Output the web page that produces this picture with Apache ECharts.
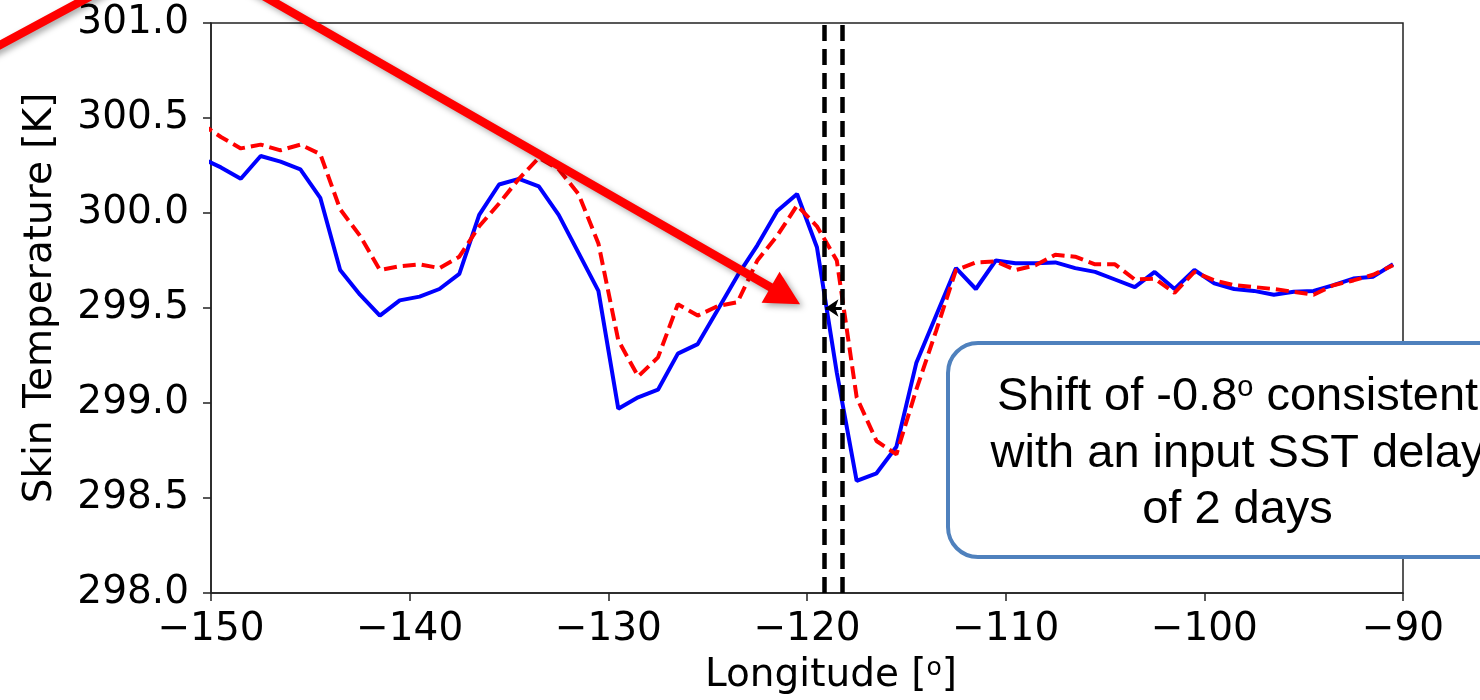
<!DOCTYPE html>
<html>
<head>
<meta charset="utf-8">
<script src="https://cdn.jsdelivr.net/npm/echarts@6/dist/echarts.min.js"></script>
<style>
  html, body { margin: 0; padding: 0; background: #fff; }
  #chart { width: 1480px; height: 700px; }
</style>
</head>
<body>
<div id="chart"></div>
<script>
// Sample longitudes along the transect (degrees)
const longitude = [
  -150.5, -149.5, -148.5, -147.5, -146.5, -145.5, -144.5, -143.5, -142.5, -141.5,
  -140.5, -139.5, -138.5, -137.5, -136.5, -135.5, -134.5, -133.5, -132.5, -131.5,
  -130.5, -129.5, -128.5, -127.5, -126.5, -125.5, -124.5, -123.5, -122.5, -121.5,
  -120.5, -119.5, -118.5, -117.5, -116.5, -115.5, -114.5, -113.5, -112.5, -111.5,
  -110.5, -109.5, -108.5, -107.5, -106.5, -105.5, -104.5, -103.5, -102.5, -101.5,
  -100.5, -99.5, -98.5, -97.5, -96.5, -95.5, -94.5, -93.5, -92.5, -91.5, -90.5
];

// Skin temperature, solid blue curve [K]
const skinSolid = [
  300.29, 300.24, 300.18, 300.30, 300.27, 300.23, 300.08, 299.70, 299.57, 299.46,
  299.54, 299.56, 299.60, 299.68, 299.99, 300.15, 300.18, 300.14, 299.99, 299.79,
  299.59, 298.97, 299.03, 299.07, 299.26, 299.31, 299.49, 299.67, 299.83, 300.01,
  300.10, 299.82, 299.16, 298.59, 298.63, 298.77, 299.21, 299.46, 299.71, 299.60,
  299.75, 299.735, 299.735, 299.74, 299.71, 299.69, 299.65, 299.61, 299.69, 299.60,
  299.70, 299.63, 299.60, 299.59, 299.57, 299.585, 299.59, 299.62, 299.655, 299.665, 299.73
];

// Skin temperature, dashed red curve [K]
const skinDashed = [
  300.47, 300.40, 300.34, 300.36, 300.33, 300.36, 300.31, 300.02, 299.88, 299.70,
  299.72, 299.73, 299.71, 299.77, 299.93, 300.05, 300.18, 300.29, 300.23, 300.10,
  299.84, 299.33, 299.14, 299.24, 299.52, 299.46, 299.51, 299.53, 299.75, 299.88,
  300.04, 299.93, 299.75, 299.03, 298.80, 298.73, 299.07, 299.38, 299.70, 299.74,
  299.745, 299.70, 299.725, 299.78, 299.77, 299.73, 299.73, 299.65, 299.655, 299.58,
  299.69, 299.645, 299.62, 299.61, 299.60, 299.585, 299.57, 299.62, 299.645, 299.675, 299.725
];

// Axis ticks
const xTicks = [-150, -140, -130, -120, -110, -100, -90];
const yTicks = [298.0, 298.5, 299.0, 299.5, 300.0, 300.5, 301.0];

// Longitudes of the two front positions (vertical dashed lines)
const frontLon = [-119.15, -118.25];
// Temperature level of the small shift arrow between them
const shiftLevel = 299.5;
// Point the large red pointer arrow ends at
const pointerTarget = [-120.35, 299.52];

// Callout text
const calloutText = ['Shift of -0.8{s|o} consistent', 'with an input SST delay', 'of 2 days'];

const minus = v => (v < 0 ? '\u2212' + Math.abs(v) : String(v));
const pairs = vals => longitude.map((x, i) => [x, vals[i]]);

const chart = echarts.init(document.getElementById('chart'), null, { renderer: 'canvas' });

const tickFont = { fontFamily: 'DejaVu Sans', fontSize: 39, color: '#000' };

chart.setOption({
  animation: false,
  backgroundColor: '#fff',
  grid: {
    left: 211, right: 77, top: 23, bottom: 107,
    show: true, borderColor: '#222', borderWidth: 1.5, backgroundColor: 'transparent'
  },
  xAxis: {
    type: 'value',
    min: xTicks[0], max: xTicks[xTicks.length - 1], interval: xTicks[1] - xTicks[0],
    axisLine: { show: true, lineStyle: { color: '#222', width: 1.5 } },
    axisTick: { show: true, inside: false, length: 8, lineStyle: { color: '#222', width: 1.5 } },
    axisLabel: Object.assign({ margin: 17, formatter: minus }, tickFont),
    splitLine: { show: false }
  },
  yAxis: {
    type: 'value',
    min: yTicks[0], max: yTicks[yTicks.length - 1], interval: yTicks[1] - yTicks[0],
    axisLine: { show: true, lineStyle: { color: '#222', width: 1.5 } },
    axisTick: { show: true, inside: false, length: 8, lineStyle: { color: '#222', width: 1.5 } },
    axisLabel: Object.assign({ margin: 22, formatter: v => v.toFixed(1) }, tickFont),
    splitLine: { show: false }
  },
  series: [
    {
      name: 'solid',
      type: 'line',
      data: pairs(skinSolid),
      showSymbol: false,
      clip: true,
      lineStyle: { color: '#0000ff', width: 4 },
      z: 3,
      markLine: {
        silent: true,
        symbol: 'none',
        label: { show: false },
        lineStyle: { color: '#000', type: [16, 8], width: 4.5 },
        data: frontLon.map(x => ({ xAxis: x }))
      }
    },
    {
      name: 'dashed',
      type: 'line',
      data: pairs(skinDashed),
      showSymbol: false,
      clip: true,
      lineStyle: { color: '#ff0000', width: 4, type: [13, 6] },
      z: 4,
      markLine: {
        silent: true,
        symbol: ['none', 'arrow'],
        symbolSize: [13, 13],
        label: { show: false },
        lineStyle: { color: '#000', type: 'solid', width: 3 },
        data: [[
          { coord: [frontLon[1], shiftLevel] },
          { coord: [frontLon[0] + 0.08, shiftLevel] }
        ]]
      }
    }
  ]
});

// Pointer arrow, callout box and axis titles
const tip = chart.convertToPixel({ gridIndex: 0 }, pointerTarget);
const origin = [180, -52];
const dx = tip[0] - origin[0], dy = tip[1] - origin[1];
const len = Math.hypot(dx, dy);
const ux = dx / len, uy = dy / len;
const headLen = 34, headHalf = 18;
const base = [tip[0] - ux * headLen, tip[1] - uy * headLen];
const shadow = { shadowBlur: 6, shadowColor: 'rgba(0,0,0,0.35)', shadowOffsetX: 3, shadowOffsetY: 3 };

chart.setOption({
  graphic: [
    {
      type: 'polyline', z: 50, silent: true,
      shape: { points: [[-40, 66.6], origin, [base[0] + ux * 2, base[1] + uy * 2]] },
      style: Object.assign({ stroke: '#ff0000', lineWidth: 8.5, fill: null, lineJoin: 'miter' }, shadow)
    },
    {
      type: 'polygon', z: 51, silent: true,
      shape: { points: [
        tip,
        [base[0] - uy * headHalf, base[1] + ux * headHalf],
        [base[0] + uy * headHalf, base[1] - ux * headHalf]
      ] },
      style: Object.assign({ fill: '#ff0000' }, shadow)
    },
    {
      type: 'rect', z: 60, silent: true,
      shape: { x: 948, y: 343, width: 620, height: 214, r: 30 },
      style: { fill: '#fff', stroke: '#4f81bd', lineWidth: 4 }
    },
    ...calloutText.map((t, i) => ({
      type: 'text', z: 61, silent: true,
      x: 1237.5, y: 397 + i * 56.7,
      style: {
        text: t, align: 'center', verticalAlign: 'middle',
        fontFamily: 'Liberation Sans', fontSize: 47, lineHeight: 47, fill: '#000',
        rich: { s: { fontFamily: 'Liberation Sans', fontSize: 29, lineHeight: 27, verticalAlign: 'top', fill: '#000' } }
      }
    })),
    {
      type: 'text', z: 61, silent: true,
      x: 831, y: 675.4,
      style: {
        text: 'Longitude [{s|o}]', align: 'center', verticalAlign: 'middle',
        fontFamily: 'DejaVu Sans', fontSize: 39, lineHeight: 39, fill: '#000',
        rich: { s: { fontFamily: 'DejaVu Sans', fontSize: 25, lineHeight: 26, verticalAlign: 'top', fill: '#000' } }
      }
    },
    {
      type: 'text', z: 61, silent: true,
      x: 41, y: 298, rotation: Math.PI / 2,
      style: {
        text: 'Skin Temperature [K]', align: 'center', verticalAlign: 'middle',
        fontFamily: 'DejaVu Sans', fontSize: 39, fill: '#000'
      }
    }
  ]
});
</script>
</body>
</html>
